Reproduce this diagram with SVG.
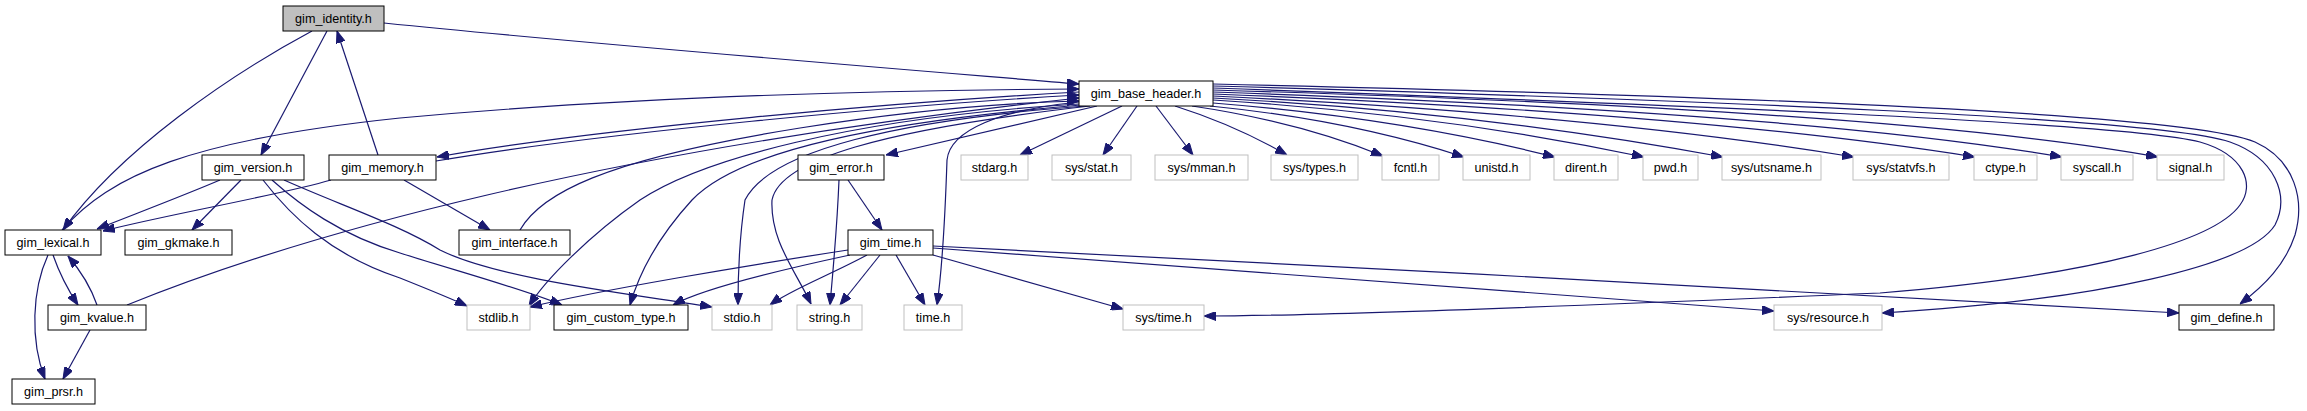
<svg xmlns="http://www.w3.org/2000/svg" width="2307" height="411" viewBox="0 0 2307 411">
<style>
.n rect{fill:#fff;stroke:#000;stroke-width:1}
.s rect{fill:#fff;stroke:#bfbfbf;stroke-width:1}
.r rect{fill:#bfbfbf;stroke:#000;stroke-width:1}
text{font-family:"Liberation Sans",Arial,Helvetica,sans-serif;font-size:12.6px;text-anchor:middle;fill:#000}
#edges path{fill:none;stroke:#191970;stroke-width:1.2;marker-end:url(#ah)}
</style>
<defs>
<marker id="ah" markerWidth="12" markerHeight="9" refX="12" refY="4.5" orient="auto" markerUnits="userSpaceOnUse">
<path d="M0,0 L12,4.5 L0,9 z" fill="#191970" stroke="#191970" stroke-width="1"/>
</marker>
</defs>
<rect width="2307" height="411" fill="#fff"/>
<g id="edges">
<path d="M384,23 C600,45 850,65 1079,84"/>
<path d="M327,31 L261,155"/>
<path d="M378,155 L337,31"/>
<path d="M312,31 C230,75 120,150 63,230"/>
<path d="M62,230 C110,175 190,140 400,118 C650,95 900,90 1079,89"/>
<path d="M220,180 C185,195 140,212 97,229"/>
<path d="M331,180 C280,195 170,214 103,231"/>
<path d="M241,180 L192,230"/>
<path d="M263,180 C290,215 330,255 400,278 C430,290 450,298 467,306"/>
<path d="M272,180 C300,205 340,235 400,253 C460,272 520,288 562,305"/>
<path d="M284,180 C340,205 400,225 440,250 C500,280 640,295 712,307"/>
<path d="M404,180 L490,230"/>
<path d="M520,230 C540,195 600,160 800,128 C900,112 1000,103 1079,101"/>
<path d="M1079,92 C900,102 600,128 437,157"/>
<path d="M436,161 C600,133 900,105 1079,95"/>
<path d="M127,305 C300,235 600,150 1079,98"/>
<path d="M1079,104 C850,118 700,160 640,200 C590,235 545,280 529,306"/>
<path d="M1081,105 C880,122 740,150 692,200 C660,235 640,270 630,305"/>
<path d="M1085,106 C900,120 770,150 745,200 C739,240 738,280 738,305"/>
<path d="M1090,106 C880,130 780,160 772,200 C770,240 795,270 811,304"/>
<path d="M1079,102 C1000,110 950,130 947,160 C945,220 942,270 937,305"/>
<path d="M1097,106 L886,155"/>
<path d="M839,180 C837,230 833,270 830,305"/>
<path d="M848,180 L882,230"/>
<path d="M848,250 C750,265 600,290 530,307"/>
<path d="M850,255 C780,270 700,290 673,305"/>
<path d="M867,255 C830,275 790,290 770,305"/>
<path d="M880,255 L840,305"/>
<path d="M896,255 L925,305"/>
<path d="M933,255 L1123,309"/>
<path d="M933,248 L1774,311"/>
<path d="M933,246 C1300,265 1900,295 2179,313"/>
<path d="M1122,106 L1020,155"/>
<path d="M1137,106 L1103,155"/>
<path d="M1156,106 L1193,155"/>
<path d="M1175,106 Q1235,125 1287,155"/>
<path d="M1192,106 Q1300,122 1383,156"/>
<path d="M1210,106 Q1350,120 1464,157"/>
<path d="M1213,103 Q1400,118 1555,157"/>
<path d="M1213,100 Q1440,114 1644,157"/>
<path d="M1213,98 Q1480,112 1723,157"/>
<path d="M1213,96 Q1600,115 1854,157"/>
<path d="M1213,94 Q1700,113 1975,157"/>
<path d="M1213,92 Q1800,112 2062,157"/>
<path d="M1213,90 Q1900,110 2158,157"/>
<path d="M1213,88 C1650,104 2120,122 2200,142 C2245,155 2255,185 2240,205 C2215,240 2100,275 1880,293 C1600,305 1300,316 1204,316"/>
<path d="M1213,86 C1700,100 2160,118 2230,142 C2275,158 2290,195 2275,225 C2250,265 2100,300 1882,313"/>
<path d="M1213,84 C1750,96 2190,114 2255,142 C2295,160 2305,200 2295,235 C2285,265 2265,285 2240,304"/>
<path d="M53,255 C60,275 68,290 78,305"/>
<path d="M97,305 C90,285 80,270 68,256"/>
<path d="M48,255 C32,290 30,340 45,379"/>
<path d="M90,330 L63,379"/>
</g>
<g id="gim_identity" class="r"><rect x="283" y="6" width="101" height="25"/><text x="333.5" y="23">gim_identity.h</text></g>
<g id="gim_base_header" class="n"><rect x="1079" y="81" width="134" height="25"/><text x="1146" y="98">gim_base_header.h</text></g>
<g id="gim_version" class="n"><rect x="202" y="155" width="102" height="25"/><text x="253" y="172">gim_version.h</text></g>
<g id="gim_memory" class="n"><rect x="329" y="155" width="107" height="25"/><text x="382.5" y="172">gim_memory.h</text></g>
<g id="gim_error" class="n"><rect x="798" y="155" width="86" height="25"/><text x="841" y="172">gim_error.h</text></g>
<g id="stdarg" class="s"><rect x="961" y="155" width="67" height="25"/><text x="994.5" y="172">stdarg.h</text></g>
<g id="sys_stat" class="s"><rect x="1052" y="155" width="79" height="25"/><text x="1091.5" y="172">sys/stat.h</text></g>
<g id="sys_mman" class="s"><rect x="1155" y="155" width="93" height="25"/><text x="1201.5" y="172">sys/mman.h</text></g>
<g id="sys_types" class="s"><rect x="1271" y="155" width="87" height="25"/><text x="1314.5" y="172">sys/types.h</text></g>
<g id="fcntl" class="s"><rect x="1382" y="155" width="57" height="25"/><text x="1410.5" y="172">fcntl.h</text></g>
<g id="unistd" class="s"><rect x="1463" y="155" width="67" height="25"/><text x="1496.5" y="172">unistd.h</text></g>
<g id="dirent" class="s"><rect x="1554" y="155" width="64" height="25"/><text x="1586" y="172">dirent.h</text></g>
<g id="pwd" class="s"><rect x="1643" y="155" width="55" height="25"/><text x="1670.5" y="172">pwd.h</text></g>
<g id="sys_utsname" class="s"><rect x="1722" y="155" width="99" height="25"/><text x="1771.5" y="172">sys/utsname.h</text></g>
<g id="sys_statvfs" class="s"><rect x="1853" y="155" width="96" height="25"/><text x="1901" y="172">sys/statvfs.h</text></g>
<g id="ctype" class="s"><rect x="1974" y="155" width="63" height="25"/><text x="2005.5" y="172">ctype.h</text></g>
<g id="syscall" class="s"><rect x="2061" y="155" width="72" height="25"/><text x="2097" y="172">syscall.h</text></g>
<g id="signal" class="s"><rect x="2157" y="155" width="67" height="25"/><text x="2190.5" y="172">signal.h</text></g>
<g id="gim_lexical" class="n"><rect x="5" y="230" width="96" height="25"/><text x="53" y="247">gim_lexical.h</text></g>
<g id="gim_gkmake" class="n"><rect x="125" y="230" width="107" height="25"/><text x="178.5" y="247">gim_gkmake.h</text></g>
<g id="gim_interface" class="n"><rect x="459" y="230" width="111" height="25"/><text x="514.5" y="247">gim_interface.h</text></g>
<g id="gim_time" class="n"><rect x="848" y="230" width="85" height="25"/><text x="890.5" y="247">gim_time.h</text></g>
<g id="gim_kvalue" class="n"><rect x="48" y="305" width="98" height="25"/><text x="97" y="322">gim_kvalue.h</text></g>
<g id="stdlib" class="s"><rect x="467" y="305" width="63" height="25"/><text x="498.5" y="322">stdlib.h</text></g>
<g id="gim_custom_type" class="n"><rect x="554" y="305" width="134" height="25"/><text x="621" y="322">gim_custom_type.h</text></g>
<g id="stdio" class="s"><rect x="712" y="305" width="60" height="25"/><text x="742" y="322">stdio.h</text></g>
<g id="string" class="s"><rect x="797" y="305" width="65" height="25"/><text x="829.5" y="322">string.h</text></g>
<g id="time" class="s"><rect x="904" y="305" width="58" height="25"/><text x="933" y="322">time.h</text></g>
<g id="sys_time" class="s"><rect x="1123" y="305" width="81" height="25"/><text x="1163.5" y="322">sys/time.h</text></g>
<g id="sys_resource" class="s"><rect x="1774" y="305" width="108" height="25"/><text x="1828" y="322">sys/resource.h</text></g>
<g id="gim_define" class="n"><rect x="2179" y="305" width="95" height="25"/><text x="2226.5" y="322">gim_define.h</text></g>
<g id="gim_prsr" class="n"><rect x="12" y="379" width="83" height="25"/><text x="53.5" y="396">gim_prsr.h</text></g>
</svg>
